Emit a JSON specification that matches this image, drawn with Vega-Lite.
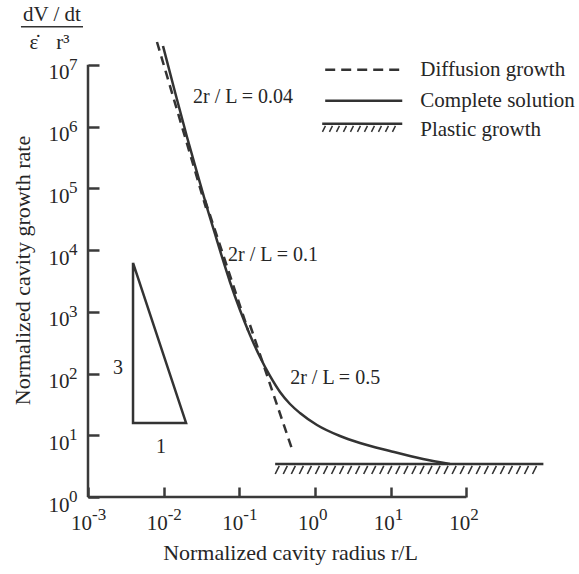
{
  "$schema": "https://vega.github.io/schema/vega-lite/v6.json",
  "width": 454,
  "height": 463,
  "autosize": "none",
  "padding": {"left": 88, "top": 34, "right": 37, "bottom": 77},
  "background": "white",
  "config": {
    "view": {"stroke": null},
    "font": "Liberation Serif, Times New Roman, DejaVu Serif, serif",
    "text": {"font": "Liberation Serif, Times New Roman, DejaVu Serif, serif", "fontSize": 21, "fill": "#262626", "baseline": "middle"}
  },
  "encoding": {
    "x": {
      "field": "x", "type": "quantitative",
      "scale": {"type": "log", "domain": [0.001, 1000], "nice": false},
      "axis": {
        "values": [0.001, 0.01, 0.1, 1, 10, 100],
        "domain": false, "grid": false,
        "tickSize": -10, "tickWidth": 2.5, "tickColor": "#3a3a3a",
        "labelExpr": "'10'",
        "labelFont": "Liberation Serif, Times New Roman, DejaVu Serif, serif", "labelFontSize": 21, "labelColor": "#262626",
        "labelPadding": 36, "labelBaseline": "middle", "labelOffset": -7, "labelFlush": false, "labelOverlap": false,
        "title": "Normalized cavity radius r/L",
        "titleFont": "Liberation Serif, Times New Roman, DejaVu Serif, serif", "titleFontSize": 22, "titleFontWeight": "normal", "titleColor": "#262626",
        "titleX": 202, "titleY": 55, "titleAlign": "center", "titleBaseline": "middle"
      }
    },
    "y": {
      "field": "y", "type": "quantitative",
      "scale": {"type": "log", "domain": [1, 31622776.6], "nice": false},
      "axis": {
        "values": [1, 10, 100, 1000, 10000, 100000, 1000000, 10000000],
        "domain": false, "grid": false,
        "tickSize": -11, "tickWidth": 2.5, "tickColor": "#3a3a3a",
        "labelExpr": "'10'",
        "labelFont": "Liberation Serif, Times New Roman, DejaVu Serif, serif", "labelFontSize": 21, "labelColor": "#262626",
        "labelPadding": 30, "labelFlush": false, "labelOverlap": false, "labelOffset": 8, "labelBaseline": "middle",
        "title": "Normalized cavity growth rate",
        "titleFont": "Liberation Serif, Times New Roman, DejaVu Serif, serif", "titleFontSize": 22, "titleFontWeight": "normal", "titleColor": "#262626",
        "titleX": -66, "titleY": 236, "titleAngle": -90, "titleAlign": "center", "titleBaseline": "middle"
      }
    }
  },
  "layer": [
    {
      "description": "axis lines",
      "data": {"values": [
        {"x": 0.001, "y": 1, "x2": 100, "y2": 1},
        {"x": 0.001, "y": 1, "x2": 0.001, "y2": 10000000}
      ]},
      "mark": {"type": "rule", "stroke": "#3a3a3a", "strokeWidth": 2.5},
      "encoding": {"x2": {"field": "x2"}, "y2": {"field": "y2"}}
    },
    {
      "description": "exponents of the x tick labels",
      "data": {"values": [
        {"x": 0.001, "y": 1, "e": "-3"},
        {"x": 0.01, "y": 1, "e": "-2"},
        {"x": 0.1, "y": 1, "e": "-1"},
        {"x": 1, "y": 1, "e": "0"},
        {"x": 10, "y": 1, "e": "1"},
        {"x": 100, "y": 1, "e": "2"}
      ]},
      "mark": {"type": "text", "align": "left", "fontSize": 17, "dx": 4, "dy": 18},
      "encoding": {"text": {"field": "e"}}
    },
    {
      "description": "exponents of the y tick labels",
      "data": {"values": [
        {"x": 0.001, "y": 1, "e": "0"},
        {"x": 0.001, "y": 10, "e": "1"},
        {"x": 0.001, "y": 100, "e": "2"},
        {"x": 0.001, "y": 1000, "e": "3"},
        {"x": 0.001, "y": 10000, "e": "4"},
        {"x": 0.001, "y": 100000, "e": "5"},
        {"x": 0.001, "y": 1000000, "e": "6"},
        {"x": 0.001, "y": 10000000, "e": "7"}
      ]},
      "mark": {"type": "text", "align": "left", "fontSize": 17, "dx": -19, "dy": 0},
      "encoding": {"text": {"field": "e"}}
    },
    {
      "description": "complete solution",
      "data": {"values": [
        {"x": 0.009797, "y": 20230000},
        {"x": 0.01412, "y": 3638000},
        {"x": 0.02034, "y": 678900},
        {"x": 0.03021, "y": 122100},
        {"x": 0.03853, "y": 42970},
        {"x": 0.04769, "y": 18220},
        {"x": 0.05901, "y": 7726},
        {"x": 0.07524, "y": 3040},
        {"x": 0.102, "y": 1070},
        {"x": 0.1383, "y": 421.1},
        {"x": 0.1875, "y": 185.3},
        {"x": 0.2542, "y": 91.24},
        {"x": 0.3446, "y": 50.23},
        {"x": 0.4672, "y": 32.11},
        {"x": 0.6332, "y": 22.95},
        {"x": 1.062, "y": 14.67},
        {"x": 2.139, "y": 9.73},
        {"x": 3.932, "y": 7.5},
        {"x": 9.795, "y": 5.564},
        {"x": 26.74, "y": 4.126},
        {"x": 60.79, "y": 3.43}
      ]},
      "mark": {"type": "line", "stroke": "#333333", "strokeWidth": 2.5, "interpolate": "monotone"}
    },
    {
      "description": "diffusion growth, one line per 2r/L",
      "data": {"values": [
        {"seg": "0.04", "x": 0.00816, "y": 23480000},
        {"seg": "0.04", "x": 0.03626, "y": 48050},
        {"seg": "0.1", "x": 0.03517, "y": 64750},
        {"seg": "0.1", "x": 0.1301, "y": 507.5},
        {"seg": "0.5", "x": 0.1383, "y": 611.4},
        {"seg": "0.5", "x": 0.5118, "y": 5.358}
      ]},
      "mark": {"type": "line", "stroke": "#333333", "strokeWidth": 2.5, "strokeDash": [9, 6]},
      "encoding": {"detail": {"field": "seg"}}
    },
    {
      "description": "plastic growth limit",
      "data": {"values": [{"x": 0.2975, "y": 3.43, "x2": 1043, "y2": 3.43}]},
      "mark": {"type": "rule", "stroke": "#333333", "strokeWidth": 2.5},
      "encoding": {"x2": {"field": "x2"}, "y2": {"field": "y2"}}
    },
    {
      "description": "hatching under the plastic growth limit",
      "data": {"values": [{"x": 17.6, "y": 3.43}]},
      "mark": {
        "type": "point", "filled": false, "opacity": 1, "stroke": "#333333", "strokeWidth": 1.6, "size": 71824,
        "shape": "M-0.97 0.015l-0.03 0.06m0.09 -0.06l-0.03 0.06m0.09 -0.06l-0.03 0.06m0.09 -0.06l-0.03 0.06m0.09 -0.06l-0.03 0.06m0.09 -0.06l-0.03 0.06m0.09 -0.06l-0.03 0.06m0.09 -0.06l-0.03 0.06m0.09 -0.06l-0.03 0.06m0.09 -0.06l-0.03 0.06m0.09 -0.06l-0.03 0.06m0.09 -0.06l-0.03 0.06m0.09 -0.06l-0.03 0.06m0.09 -0.06l-0.03 0.06m0.09 -0.06l-0.03 0.06m0.09 -0.06l-0.03 0.06m0.09 -0.06l-0.03 0.06m0.09 -0.06l-0.03 0.06m0.09 -0.06l-0.03 0.06m0.09 -0.06l-0.03 0.06m0.09 -0.06l-0.03 0.06m0.09 -0.06l-0.03 0.06m0.09 -0.06l-0.03 0.06m0.09 -0.06l-0.03 0.06m0.09 -0.06l-0.03 0.06m0.09 -0.06l-0.03 0.06m0.09 -0.06l-0.03 0.06m0.09 -0.06l-0.03 0.06m0.09 -0.06l-0.03 0.06m0.09 -0.06l-0.03 0.06m0.09 -0.06l-0.03 0.06m0.09 -0.06l-0.03 0.06m0.09 -0.06l-0.03 0.06"
      }
    },
    {
      "description": "slope triangle 3:1",
      "data": {"values": [
        {"o": 0, "x": 0.003936, "y": 6202},
        {"o": 1, "x": 0.003936, "y": 15.82},
        {"o": 2, "x": 0.01977, "y": 15.82},
        {"o": 3, "x": 0.003936, "y": 6202}
      ]},
      "mark": {"type": "line", "stroke": "#333333", "strokeWidth": 2.5, "strokeJoin": "miter"},
      "encoding": {"order": {"field": "o", "type": "quantitative"}}
    },
    {
      "description": "curve annotations",
      "data": {"values": [
        {"x": 0.02448, "y": 3040000, "label": "2r / L  = 0.04"},
        {"x": 0.07108, "y": 8357, "label": "2r / L = 0.1"},
        {"x": 0.4699, "y": 84.9, "label": "2r / L = 0.5"}
      ]},
      "mark": {"type": "text", "align": "left", "fontSize": 20},
      "encoding": {"text": {"field": "label"}}
    },
    {
      "description": "triangle side ratios",
      "data": {"values": [
        {"x": 0.002495, "y": 123, "label": "3"},
        {"x": 0.00925, "y": 6.46, "label": "1"}
      ]},
      "mark": {"type": "text", "align": "center", "fontSize": 20},
      "encoding": {"text": {"field": "label"}}
    },
    {
      "description": "legend sample lines",
      "data": {"values": [
        {"kind": "dash", "x": 1.364, "y": 8330000, "x2": 14.23, "y2": 8330000},
        {"kind": "solid", "x": 1.364, "y": 2620000, "x2": 14.23, "y2": 2620000},
        {"kind": "plastic", "x": 1.245, "y": 1110000, "x2": 14.23, "y2": 1110000}
      ]},
      "mark": {"type": "rule", "stroke": "#333333", "strokeWidth": 2.5},
      "encoding": {
        "x2": {"field": "x2"}, "y2": {"field": "y2"},
        "strokeDash": {"field": "kind", "type": "nominal", "scale": {"domain": ["dash", "solid", "plastic"], "range": [[10, 6], [1, 0], [1, 0]]}, "legend": null}
      }
    },
    {
      "description": "legend hatching",
      "data": {"values": [{"x": 4.21, "y": 1110000}]},
      "mark": {
        "type": "point", "filled": false, "opacity": 1, "stroke": "#333333", "strokeWidth": 1.5, "size": 6400,
        "shape": "M-0.92 0.05l-0.075 0.15m0.25 -0.15l-0.075 0.15m0.25 -0.15l-0.075 0.15m0.25 -0.15l-0.075 0.15m0.25 -0.15l-0.075 0.15m0.25 -0.15l-0.075 0.15m0.25 -0.15l-0.075 0.15m0.25 -0.15l-0.075 0.15m0.25 -0.15l-0.075 0.15m0.25 -0.15l-0.075 0.15m0.25 -0.15l-0.075 0.15"
      }
    },
    {
      "description": "legend labels",
      "data": {"values": [
        {"x": 24.63, "y": 8330000, "label": "Diffusion growth"},
        {"x": 24.63, "y": 2620000, "label": "Complete solution"},
        {"x": 24.63, "y": 887000, "label": "Plastic growth"}
      ]},
      "mark": {"type": "text", "align": "left", "fontSize": 21},
      "encoding": {"text": {"field": "label"}}
    },
    {
      "description": "quantity on the y axis: (dV/dt) / (strain rate * r^3)",
      "data": {"values": [
        {"x": 0.000334, "y": 64900000, "label": "dV / dt"},
        {"x": 0.000193, "y": 22800000, "label": "ε̇"},
        {"x": 0.000467, "y": 22800000, "label": "r³"}
      ]},
      "mark": {"type": "text", "align": "center", "fontSize": 21},
      "encoding": {"text": {"field": "label"}}
    },
    {
      "description": "fraction bar",
      "data": {"values": [{"x": 0.00013, "y": 41400000, "x2": 0.000859, "y2": 41400000}]},
      "mark": {"type": "rule", "stroke": "#333333", "strokeWidth": 1.5},
      "encoding": {"x2": {"field": "x2"}, "y2": {"field": "y2"}}
    }
  ]
}
